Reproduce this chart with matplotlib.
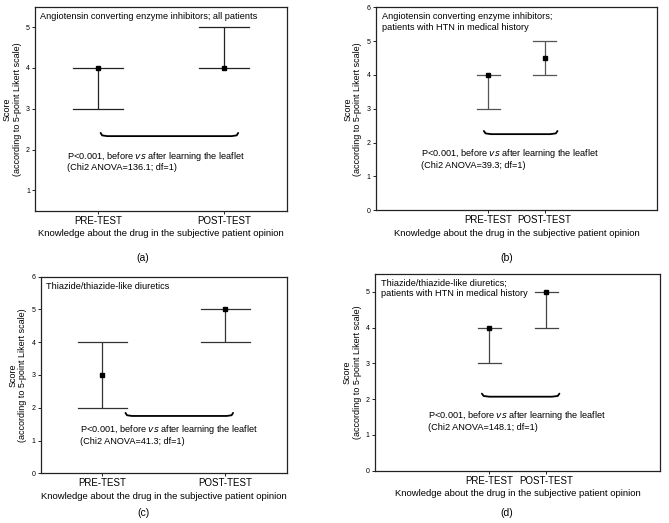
import matplotlib.pyplot as plt
import numpy as np

plt.rcParams['font.family'] = ['Liberation Sans', 'DejaVu Sans']

categories = ['PRE-TEST', 'POST-TEST']

titles = ['Angiotensin converting enzyme inhibitors; all patients',
          'Angiotensin converting enzyme inhibitors;\npatients with HTN in medical history',
          'Thiazide/thiazide-like diuretics',
          'Thiazide/thiazide-like diuretics;\npatients with HTN in medical history']
panel_tags = ['(a)', '(b)', '(c)', '(d)']

# median, lower and upper values per panel (pre, post)
med_a = [4, 4]
low_a = [3, 4]
high_a = [4, 5]

med_b = [4, 4.5]
low_b = [3, 4]
high_b = [4, 5]

med_c = [3, 5]
low_c = [2, 4]
high_c = [4, 5]

med_d = [4, 5]
low_d = [3, 4]
high_d = [4, 5]

chi2 = ['136.1', '39.3', '41.3', '148.1']

# layout: [left, bottom, width, height] in figure fraction, xlim, ylim
panels = [
    dict(rect=[0.053, 0.597, 0.376, 0.390], xlim=(-0.5, 1.5), ylim=(0.5, 5.5),
         yticks=[1, 2, 3, 4, 5], med=med_a, low=low_a, high=high_a,
         brace_y=2.33, brace=(0.03, 1.1), txt=(-0.25, 2.0), ecol='#222222'),
    dict(rect=[0.562, 0.598, 0.420, 0.388], xlim=(-2, 3), ylim=(0, 6),
         yticks=[0, 1, 2, 3, 4, 5, 6], med=med_b, low=low_b, high=high_b,
         brace_y=2.25, brace=(-0.05, 1.2), txt=(-1.2, 1.87), ecol='#555555'),
    dict(rect=[0.061, 0.095, 0.368, 0.376], xlim=(-0.5, 1.5), ylim=(0, 6),
         yticks=[0, 1, 2, 3, 4, 5, 6], med=med_c, low=low_c, high=high_c,
         brace_y=1.75, brace=(0.2, 1.05), txt=(-0.18, 1.54), ecol='#333333'),
    dict(rect=[0.561, 0.100, 0.426, 0.376], xlim=(-2, 3), ylim=(0, 5.5),
         yticks=[0, 1, 2, 3, 4, 5], med=med_d, low=low_d, high=high_d,
         brace_y=2.07, brace=(-0.1, 1.2), txt=(-1.08, 1.73), ecol='#444444'),
]

tag_pos = [(0.214, 0.507), (0.757, 0.507), (0.214, 0.019), (0.757, 0.019)]

fig = plt.figure(figsize=(6.69, 5.23), dpi=100)

for i, p in enumerate(panels):
    ax = fig.add_axes(p['rect'])
    x = np.arange(len(categories))
    med = np.array(p['med'], dtype=float)
    lo = np.array(p['low'], dtype=float)
    hi = np.array(p['high'], dtype=float)
    ax.errorbar(x, med, yerr=[med - lo, hi - med], fmt='s', color='black',
                ms=3, ecolor=p['ecol'], elinewidth=0.9, capsize=0)
    # wide caps
    for xi, l, h in zip(x, lo, hi):
        ax.plot([xi - 0.2, xi + 0.2], [l, l], color=p['ecol'], lw=0.9)
        ax.plot([xi - 0.2, xi + 0.2], [h, h], color=p['ecol'], lw=0.9)

    # brace under the two groups
    x0, x1 = p['brace']
    y0 = p['brace_y']
    span = p['ylim'][1] - p['ylim'][0]
    dy = span * 0.012
    dx = (p['xlim'][1] - p['xlim'][0]) * 0.02
    bx = [x0 - dx * 0.3, x0, x0 + dx, x1 - dx, x1, x1 + dx * 0.3]
    by = [y0 + dy * 1.3, y0 + dy * 0.3, y0, y0, y0 + dy * 0.3, y0 + dy * 1.3]
    ax.plot(bx, by, color='black', lw=1.3, solid_capstyle='round')

    ax.text(p['txt'][0], p['txt'][1],
            'P<0.001, before $\\it{vs}$ after learning the leaflet\n'
            '(Chi2 ANOVA=' + chi2[i] + '; df=1)',
            fontsize=6.6, va='top', ha='left', linespacing=1.1)

    ax.text(0.02, 0.975, titles[i], transform=ax.transAxes, fontsize=6.6,
            va='top', ha='left', linespacing=1.2)

    ax.set_xlim(p['xlim'])
    ax.set_ylim(p['ylim'])
    ax.set_xticks(x)
    ax.set_xticklabels(categories, fontsize=7)
    ax.set_yticks(p['yticks'])
    ax.tick_params(axis='y', labelsize=5, length=2, width=0.6, pad=2)
    ax.tick_params(axis='x', length=2, width=0.6, pad=1.5)
    for s in ax.spines.values():
        s.set_linewidth(0.9)
        s.set_color('#222222')
    ax.set_ylabel('Score\n(according to 5-point Likert scale)', fontsize=6.5,
                  linespacing=1.1, labelpad=3)
    ax.set_xlabel('Knowledge about the drug in the subjective patient opinion',
                  fontsize=6.8, labelpad=2.5)

    fig.text(tag_pos[i][0], tag_pos[i][1], panel_tags[i], fontsize=7.5,
             ha='center', va='center')

fig.savefig('out.png', dpi=100)
